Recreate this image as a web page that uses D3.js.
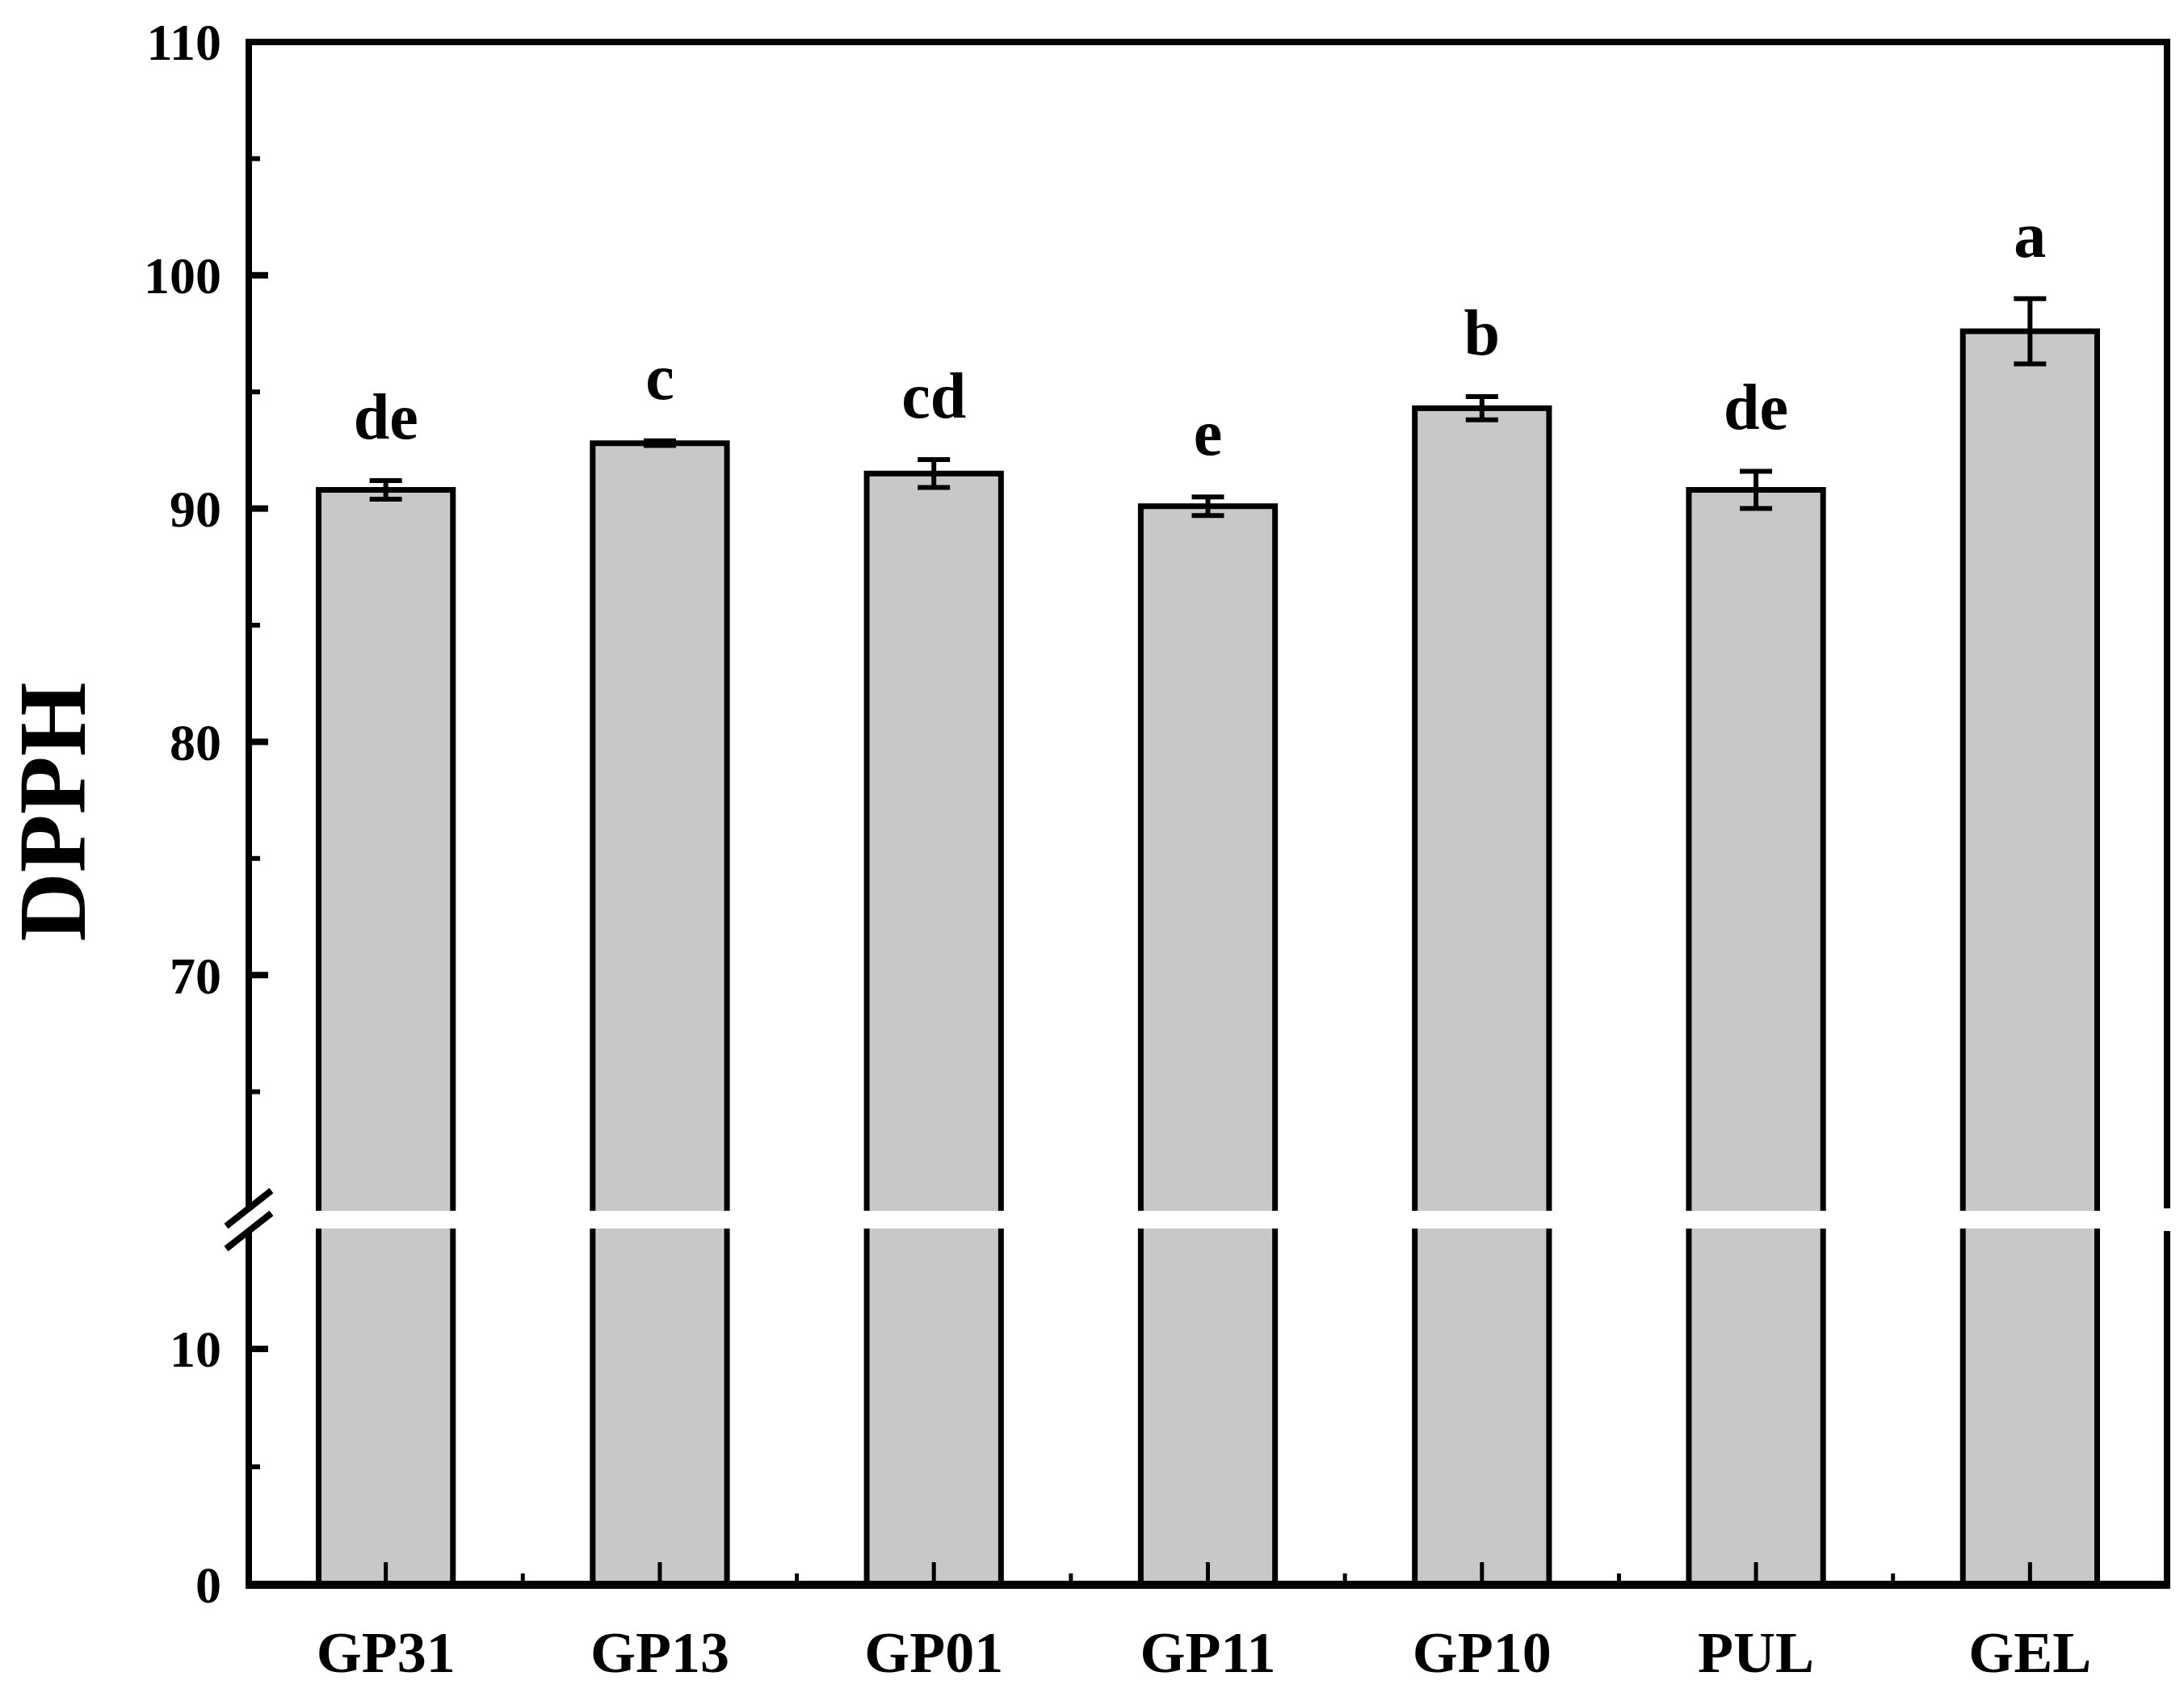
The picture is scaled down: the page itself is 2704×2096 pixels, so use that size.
<!DOCTYPE html>
<html><head><meta charset="utf-8">
<script src="https://cdn.jsdelivr.net/npm/d3@7"></script>
<style>body{margin:0;background:#fff}</style></head>
<body><svg id="c" width="2704" height="2096"></svg>
<script>
const categories = ["GP31","GP13","GP01","GP11","GP10","PUL","GEL"];
const values = [90.8,92.8,91.5,90.1,94.3,90.8,97.6];
const errors = [0.4,0.1,0.6,0.4,0.5,0.8,1.4];
const letters = ["de","c","cd","e","b","de","a"];
const upperTicks = [70,80,90,100,110];
const upperMinor = [65,75,85,95,105];
const lowerTicks = [0,10];
const lowerMinor = [5];

const svg = d3.select("#c");
const L=308,R=2683,T=52,B=1962;
const font="'Liberation Serif','Times New Roman',serif";
const x = d3.scaleBand().domain(categories).range([L,R]).padding(0);
const yU = d3.scaleLinear().domain([60,110]).range([1496,T]);
const yL = d3.scaleLinear().domain([0,15]).range([B,1524]);
const bw = x.bandwidth()*0.49;
const col="#c8c8c8";

const g = svg.append("g");
// bars (full height; gap covered later)
g.selectAll("rect.bar").data(categories).enter().append("rect")
 .attr("x",d=>x(d)+x.bandwidth()/2-bw/2).attr("width",bw)
 .attr("y",(d,i)=>yU(values[i])).attr("height",(d,i)=>B-yU(values[i]))
 .attr("fill",col).attr("stroke","#000").attr("stroke-width",7);
// break gap
svg.append("rect").attr("x",L-40).attr("y",yU(60)+3).attr("width",R-L+30).attr("height",yL(15)-yU(60)-6).attr("fill","#fff");
// error bars
categories.forEach((c,i)=>{
  const cx=x(c)+x.bandwidth()/2, top=yU(values[i]+errors[i]), bot=yU(values[i]-errors[i]);
  const e=svg.append("g").attr("stroke","#000").attr("stroke-width",6);
  e.append("line").attr("x1",cx).attr("x2",cx).attr("y1",top).attr("y2",bot);
  e.append("line").attr("x1",cx-20).attr("x2",cx+20).attr("y1",top).attr("y2",top);
  e.append("line").attr("x1",cx-20).attr("x2",cx+20).attr("y1",bot).attr("y2",bot);
  svg.append("text").attr("x",cx).attr("y",top-52).attr("text-anchor","middle")
   .attr("font-family",font).attr("font-weight","bold").attr("font-size",80).text(letters[i]);
});
// frame
const ax=svg.append("g").attr("stroke","#000").attr("fill","none");
ax.append("line").attr("x1",L).attr("x2",R).attr("y1",T).attr("y2",T).attr("stroke-width",8);
ax.append("line").attr("x1",R).attr("x2",R).attr("y1",T-4).attr("y2",yU(60)).attr("stroke-width",8);
ax.append("line").attr("x1",R).attr("x2",R).attr("y1",yL(15)).attr("y2",B).attr("stroke-width",8);
ax.append("line").attr("x1",L).attr("x2",L).attr("y1",T-4).attr("y2",yU(60)).attr("stroke-width",8);
ax.append("line").attr("x1",L).attr("x2",L).attr("y1",yL(15)).attr("y2",B+4).attr("stroke-width",8);
ax.append("line").attr("x1",L-4).attr("x2",R+4).attr("y1",B).attr("y2",B).attr("stroke-width",10);
// break marks
[yU(60),yL(15)].forEach(yy=>ax.append("line").attr("x1",L-28).attr("x2",L+28).attr("y1",yy+22).attr("y2",yy-22).attr("stroke-width",8));
// y ticks
function ticks(scale,maj,min){
  maj.forEach(v=>{ax.append("line").attr("x1",L).attr("x2",L+24).attr("y1",scale(v)).attr("y2",scale(v)).attr("stroke-width",8);
    svg.append("text").attr("x",L-34).attr("y",scale(v)).attr("dy","0.35em").attr("text-anchor","end")
     .attr("font-family",font).attr("font-weight","bold").attr("font-size",64).text(v);});
  min.forEach(v=>ax.append("line").attr("x1",L).attr("x2",L+14).attr("y1",scale(v)).attr("y2",scale(v)).attr("stroke-width",6));
}
ticks(yU,upperTicks,upperMinor); ticks(yL,lowerTicks,lowerMinor);
// x ticks
categories.forEach((c,i)=>{
  const cx=x(c)+x.bandwidth()/2;
  ax.append("line").attr("x1",cx).attr("x2",cx).attr("y1",B).attr("y2",B-28).attr("stroke-width",5);
  if(i>0) ax.append("line").attr("x1",x(c)).attr("x2",x(c)).attr("y1",B).attr("y2",B-14).attr("stroke-width",5);
  svg.append("text").attr("x",cx).attr("y",2070).attr("text-anchor","middle")
   .attr("font-family",font).attr("font-weight","bold").attr("font-size",72).text(c);
});
svg.append("text").attr("transform","translate(105,1005) rotate(-90)").attr("text-anchor","middle")
 .attr("font-family",font).attr("font-weight","bold").attr("font-size",118).text("DPPH");
</script></body></html>
